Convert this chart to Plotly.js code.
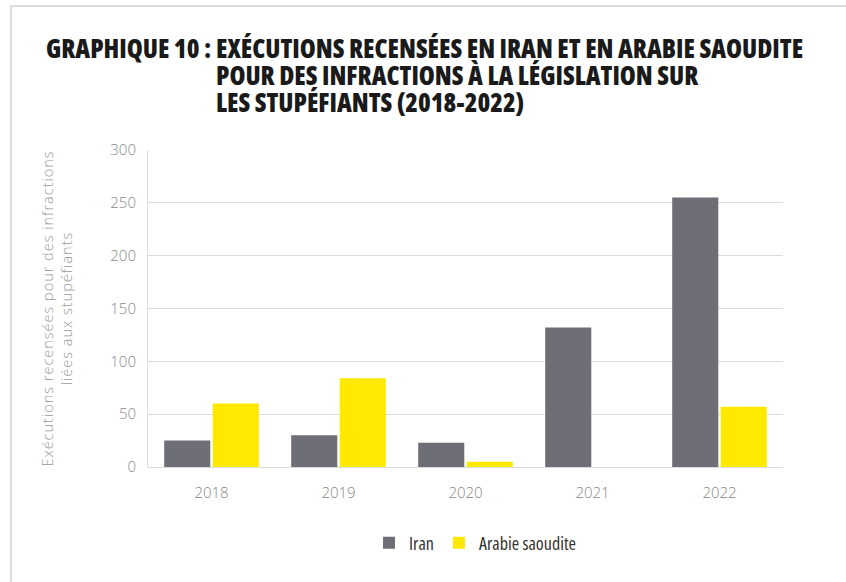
<!DOCTYPE html>
<html>
<head>
<meta charset="utf-8">
<script src="https://cdn.plot.ly/plotly-3.0.1.min.js"></script>
<style>
html,body{margin:0;padding:0;background:#fff;}
#chart{width:846px;height:582px;}
.annotation-text, .legendtext { font-stretch: 75%; }
.ytitle { letter-spacing: 1px; }
</style>
</head>
<body>
<div id="chart"></div>
<script>
const years = ['2018', '2019', '2020', '2021', '2022'];
const iranValues = [25, 30, 23, 132, 255];
const saudiValues = [60, 84, 5, 0, 57];
const seriesNames = ['Iran', 'Arabie saoudite'];
const yTicks = [0, 50, 100, 150, 200, 250, 300];
const titlePrefix = 'GRAPHIQUE 10 :';
const titleLines = [
  'EXÉCUTIONS RECENSÉES EN IRAN ET EN ARABIE SAOUDITE',
  'POUR DES INFRACTIONS À LA LÉGISLATION SUR',
  'LES STUPÉFIANTS (2018-2022)'
];
const yTitle = 'Exécutions recensées pour des infractions<br>liées aux stupéfiants';

const condensed = '"Open Sans", sans-serif';
const ML = 148, MT = 150, PW = 635, PH = 317;
function px(x){ return (x - ML) / PW; }
function py(y){ return (MT + PH - y) / PH; }

const traces = [
  {type:'bar', name:seriesNames[0], x:years, y:iranValues, marker:{color:'#6e6f76'}},
  {type:'bar', name:seriesNames[1], x:years, y:saudiValues, marker:{color:'#ffe900'}}
];

const titleFont = {family: condensed, size: 25.8, color: '#1a1a1a', weight: 800};
const annotations = [
  {text: titlePrefix, xref:'paper', yref:'paper', x:px(44), y:py(48), xanchor:'left', yanchor:'middle', showarrow:false, font:titleFont},
  {text: titleLines[0], xref:'paper', yref:'paper', x:px(214), y:py(48), xanchor:'left', yanchor:'middle', showarrow:false, font:titleFont},
  {text: titleLines[1], xref:'paper', yref:'paper', x:px(214), y:py(75), xanchor:'left', yanchor:'middle', showarrow:false, font:titleFont},
  {text: titleLines[2], xref:'paper', yref:'paper', x:px(214), y:py(102), xanchor:'left', yanchor:'middle', showarrow:false, font:titleFont}
];

const layout = {
  width: 846, height: 582,
  margin: {l: ML, r: 846 - ML - PW, t: MT, b: 582 - MT - PH},
  paper_bgcolor: '#fff', plot_bgcolor: '#fff',
  showlegend: true,
  legend: {orientation:'h', x: px(475), xanchor:'center', y: py(543), yanchor:'middle',
           font:{family: condensed, size:18, color:'#333', weight: 500}, itemwidth:30, traceorder:'normal'},
  bargap: 0.236, bargroupgap: 0.05, barmode: 'group',
  xaxis: {type:'category', showgrid:false, zeroline:false, showline:false, ticks:'',
          tickfont:{family:'"Open Sans", sans-serif', size:15, color:'#888', weight:300}, ticklabelstandoff: 15, fixedrange:true},
  yaxis: {range:[0,300], tickvals: yTicks, showgrid:true, gridcolor:'#dcdcdc', gridwidth:1,
          zeroline:true, zerolinecolor:'#dcdcdc', zerolinewidth:1,
          showline:true, linecolor:'#dcdcdc', linewidth:1, ticks:'',
          tickfont:{family:'"Open Sans", sans-serif', size:15, color:'#888', weight:300}, ticklabelstandoff: 8, fixedrange:true,
          title:{text: yTitle, standoff: 34, font:{family:'"Open Sans", sans-serif', size:14.5, color:'#999', weight:300}}},
  annotations: annotations,
  shapes: [
    {type:'line', xref:'paper', yref:'paper', x0:px(10), x1:px(846), y0:py(6), y1:py(6), line:{color:'#dcdcdc', width:2}},
    {type:'line', xref:'paper', yref:'paper', x0:px(11), x1:px(11), y0:py(6), y1:py(582), line:{color:'#dcdcdc', width:2}}
  ]
};

Plotly.newPlot('chart', traces, layout, {displayModeBar:false, staticPlot:true});
</script>
</body>
</html>
